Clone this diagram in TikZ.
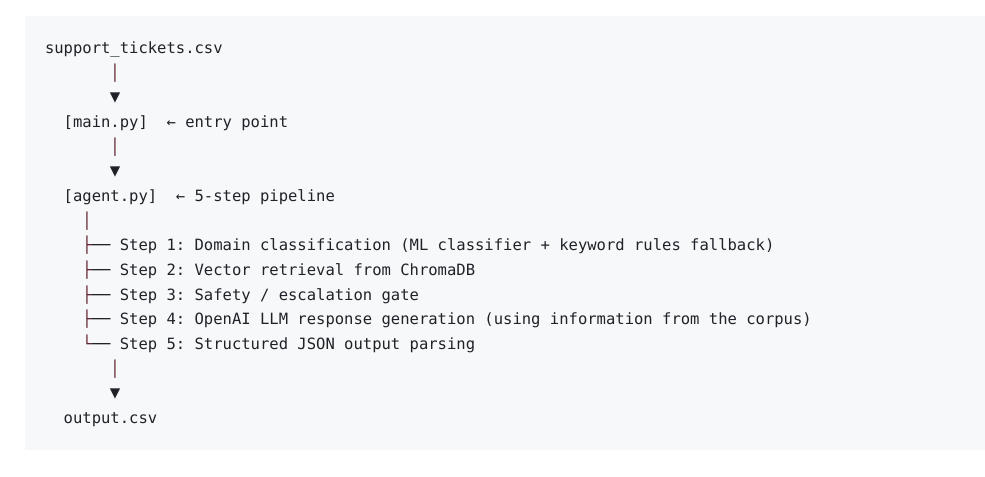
\documentclass[tikz,border=0pt]{standalone}
\usepackage{fontspec}
\setmonofont{DejaVu Sans Mono}
\definecolor{codebg}{HTML}{F6F8FA}
\definecolor{codefg}{HTML}{1F2328}
\definecolor{barc}{HTML}{5E1F2B}
\begin{document}
\begin{tikzpicture}[x=0.75pt,y=-0.75pt,
  codeline/.style={anchor=base west,inner sep=0pt,outer sep=0pt,text=codefg,
    font=\ttfamily\fontsize{11.65}{14}\selectfont},
  barline/.style={codeline,text=barc},
  tipline/.style={codeline,font=\ttfamily\fontsize{13}{14}\selectfont}]
\useasboundingbox (0,0) rectangle (985,476);
\fill[codebg] (25,16) rectangle (985,450);
\node[codeline] (src) at (45,53.5) {support\_tickets.csv};
\node[barline] (b1) at (110.45,78.17) {│};
\node[tipline] (a1) at (109.8,102.84) {▼};
\node[codeline] (main) at (63.7,127.51) {[main.py]};
\node[codeline] (mainc) at (166.55,127.51) {← entry point};
\node[barline] (b2) at (110.45,152.18) {│};
\node[tipline] (a2) at (109.8,176.85) {▼};
\node[codeline] (agent) at (63.7,201.52) {[agent.py]};
\node[codeline] (agentc) at (175.9,201.52) {← 5-step pipeline};
\node[barline] (b3) at (82.4,226.19) {│};
\node[codeline] (t1) at (82.4,250.86) {\textcolor{barc}{├}──};
\node[codeline] (s1) at (119.8,250.86) {Step 1: Domain classification (ML classifier + keyword rules fallback)};
\node[codeline] (t2) at (82.4,275.53) {\textcolor{barc}{├}──};
\node[codeline] (s2) at (119.8,275.53) {Step 2: Vector retrieval from ChromaDB};
\node[codeline] (t3) at (82.4,300.2) {\textcolor{barc}{├}──};
\node[codeline] (s3) at (119.8,300.2) {Step 3: Safety / escalation gate};
\node[codeline] (t4) at (82.4,324.87) {\textcolor{barc}{├}──};
\node[codeline] (s4) at (119.8,324.87) {Step 4: OpenAI LLM response generation (using information from the corpus)};
\node[codeline] (t5) at (82.4,349.54) {\textcolor{barc}{└}──};
\node[codeline] (s5) at (119.8,349.54) {Step 5: Structured JSON output parsing};
\node[barline] (b4) at (110.45,374.21) {│};
\node[tipline] (a3) at (109.8,398.88) {▼};
\node[codeline] (out) at (63.7,423.55) {output.csv};
\end{tikzpicture}
\end{document}
